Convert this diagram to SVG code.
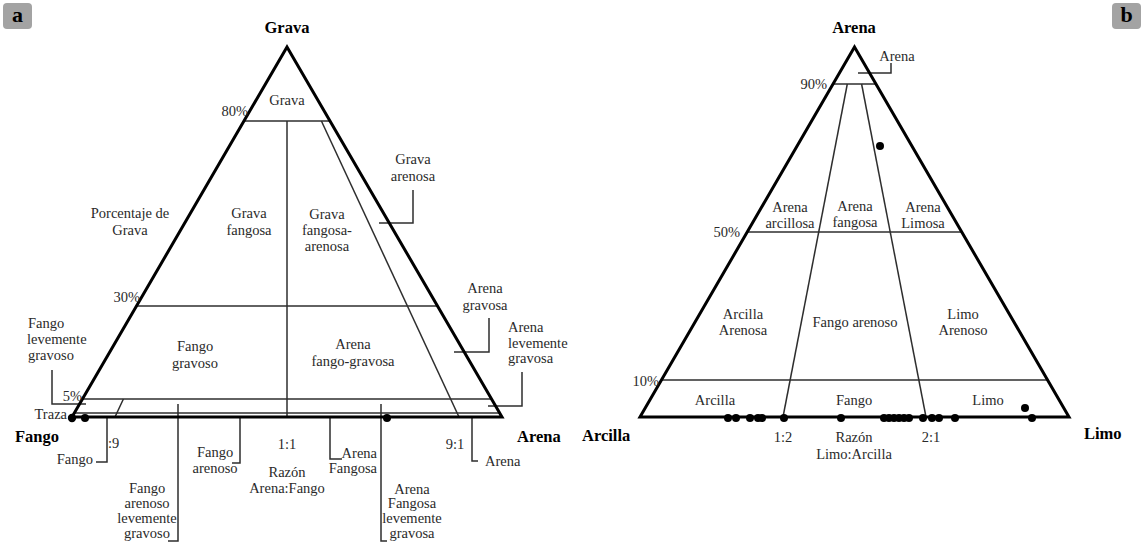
<svg xmlns="http://www.w3.org/2000/svg" width="1142" height="546" viewBox="0 0 1142 546" font-family="Liberation Serif, DejaVu Serif, Times New Roman, serif">
<style>
text{font-family:"Liberation Serif","DejaVu Serif","Times New Roman",serif;font-size:14.5px;fill:#2a2a2a;text-anchor:middle}
.b{font-weight:bold;font-size:16.5px;fill:#000}
.e{text-anchor:end}
.s{text-anchor:start}
.tag{font-weight:bold;font-size:22px;fill:#000}
.thick{stroke:#000;stroke-width:3;fill:none;stroke-linejoin:miter}
.thin{stroke:#2e2e2e;stroke-width:1.5;fill:none}
.lead{stroke:#2e2e2e;stroke-width:1.5;fill:none}
.dot{fill:#000}
</style>
<rect x="3" y="3" width="29" height="26" rx="4" fill="#a3a3a3"/>
<text class="tag" x="17.5" y="22">a</text>
<rect x="1112" y="3" width="29" height="26" rx="4" fill="#a3a3a3"/>
<text class="tag" x="1126.5" y="22">b</text>

<g id="triangle-a">
<g id="a-connectors">
<line class="thin" x1="244" y1="121" x2="330" y2="121"/>
<line class="thin" x1="136.5" y1="306" x2="437.5" y2="306"/>
<line class="thin" x1="83" y1="399" x2="491" y2="399"/>
<line class="thin" x1="74" y1="413" x2="500" y2="413"/>
<line class="thin" x1="287" y1="121" x2="287" y2="417"/>
<line class="thin" x1="321.4" y1="121" x2="459" y2="417"/>
<line class="thin" x1="123.4" y1="399" x2="115" y2="417"/>
<polyline class="lead" points="52,370 52,404 86,404"/>
<polyline class="lead" points="107,416 107,462 96,462"/>
<polyline class="lead" points="178,404 178,541 168,541"/>
<polyline class="lead" points="240,416 240,463 232,463"/>
<polyline class="lead" points="330,416 330,459 342,459"/>
<polyline class="lead" points="381,404 381,541 387,541"/>
<polyline class="lead" points="472,416 472,461 478,461"/>
<polyline class="lead" points="413,190 413,223 379,223"/>
<polyline class="lead" points="489,318 489,352 454,352"/>
<polyline class="lead" points="522,372 522,406 488,406"/>
<polygon class="thick" points="287,47 502,417 72,417"/>
</g>
<circle class="dot" cx="72" cy="418" r="4.2"/>
<circle class="dot" cx="85" cy="418" r="4"/>
<circle class="dot" cx="387" cy="418" r="4"/>
<g id="a-labels">
<text class="b" x="287" y="33">Grava</text>
<text x="287" y="105">Grava</text>
<text class="e" x="248" y="116">80%</text>
<text x="413" y="164">Grava</text>
<text x="413" y="181">arenosa</text>
<text x="130" y="218">Porcentaje de</text>
<text x="130" y="235">Grava</text>
<text x="249" y="218">Grava</text>
<text x="249" y="235">fangosa</text>
<text x="327" y="219">Grava</text>
<text x="327" y="235">fangosa-</text>
<text x="327" y="251">arenosa</text>
<text x="485" y="293">Arena</text>
<text x="485" y="310">gravosa</text>
<text class="e" x="140" y="302">30%</text>
<text class="s" x="28" y="328">Fango</text>
<text class="s" x="27" y="344">levemente</text>
<text class="s" x="28" y="360">gravoso</text>
<text x="195" y="351">Fango</text>
<text x="195" y="368">gravoso</text>
<text x="353" y="349">Arena</text>
<text x="353" y="366">fango-gravosa</text>
<text class="s" x="508" y="332">Arena</text>
<text class="s" x="508" y="348">levemente</text>
<text class="s" x="508" y="363">gravosa</text>
<text class="e" x="82" y="401">5%</text>
<text class="e" x="67" y="419">Traza</text>
<text class="b s" x="15" y="442">Fango</text>
<text class="s" x="108" y="448">:9</text>
<text class="e" x="93" y="464">Fango</text>
<text x="215" y="457">Fango</text>
<text x="215" y="473">arenoso</text>
<text x="147" y="493">Fango</text>
<text x="147" y="508">arenoso</text>
<text x="147" y="523">levemente</text>
<text x="147" y="538">gravoso</text>
<text x="287" y="449">1:1</text>
<text x="287" y="477">Razón</text>
<text x="287" y="493">Arena:Fango</text>
<text class="e" x="377" y="458">Arena</text>
<text class="e" x="377" y="473">Fangosa</text>
<text x="412" y="494">Arena</text>
<text x="412" y="508">Fangosa</text>
<text x="412" y="523">levemente</text>
<text x="412" y="538">gravosa</text>
<text x="455" y="449">9:1</text>
<text class="s" x="485" y="466">Arena</text>
<text class="b s" x="517" y="442">Arena</text>
</g>
</g>

<g id="triangle-b">
<g id="b-connectors">
<line class="thin" x1="833" y1="84" x2="876" y2="84"/>
<line class="thin" x1="747" y1="232" x2="962" y2="232"/>
<line class="thin" x1="661.5" y1="380" x2="1047.5" y2="380"/>
<line class="thin" x1="847.3" y1="84" x2="783" y2="417"/>
<line class="thin" x1="861.6" y1="84" x2="926" y2="417"/>
<polyline class="lead" points="858,73 891,73 891,63"/>
<polygon class="thick" points="854.5,47 1069,417 640,417"/>
</g>
<g id="b-points">
<circle class="dot" cx="880" cy="146" r="4"/>
<circle class="dot" cx="1025" cy="408" r="4"/>
<circle class="dot" cx="728" cy="418" r="4"/>
<circle class="dot" cx="736" cy="418" r="4"/>
<circle class="dot" cx="750" cy="418" r="4"/>
<circle class="dot" cx="758" cy="418" r="4"/>
<circle class="dot" cx="762" cy="418" r="4"/>
<circle class="dot" cx="784" cy="418" r="4"/>
<circle class="dot" cx="841" cy="418" r="4"/>
<circle class="dot" cx="884" cy="418" r="4"/>
<circle class="dot" cx="889" cy="418" r="4"/>
<circle class="dot" cx="894" cy="418" r="4"/>
<circle class="dot" cx="899" cy="418" r="4"/>
<circle class="dot" cx="904" cy="418" r="4"/>
<circle class="dot" cx="909" cy="418" r="4"/>
<circle class="dot" cx="923" cy="418" r="4"/>
<circle class="dot" cx="932" cy="418" r="4"/>
<circle class="dot" cx="939" cy="418" r="4"/>
<circle class="dot" cx="955" cy="418" r="4"/>
<circle class="dot" cx="1032" cy="418" r="4"/>
</g>
<g id="b-labels">
<text class="b" x="854" y="33">Arena</text>
<text x="897" y="61">Arena</text>
<text class="e" x="827" y="89">90%</text>
<text x="790" y="212">Arena</text>
<text x="790" y="228">arcillosa</text>
<text x="855" y="211">Arena</text>
<text x="855" y="227">fangosa</text>
<text x="923" y="212">Arena</text>
<text x="923" y="228">Limosa</text>
<text class="e" x="740" y="237">50%</text>
<text x="743" y="319">Arcilla</text>
<text x="743" y="335">Arenosa</text>
<text x="855" y="327">Fango arenoso</text>
<text x="963" y="319">Limo</text>
<text x="963" y="335">Arenoso</text>
<text class="e" x="659" y="386">10%</text>
<text x="715" y="405">Arcilla</text>
<text x="854" y="405">Fango</text>
<text x="988" y="405">Limo</text>
<text class="b s" x="582" y="441">Arcilla</text>
<text class="b s" x="1084" y="439">Limo</text>
<text x="783" y="442">1:2</text>
<text x="854" y="442">Razón</text>
<text x="854" y="459">Limo:Arcilla</text>
<text x="931" y="442">2:1</text>
</g>
</g>
</svg>
